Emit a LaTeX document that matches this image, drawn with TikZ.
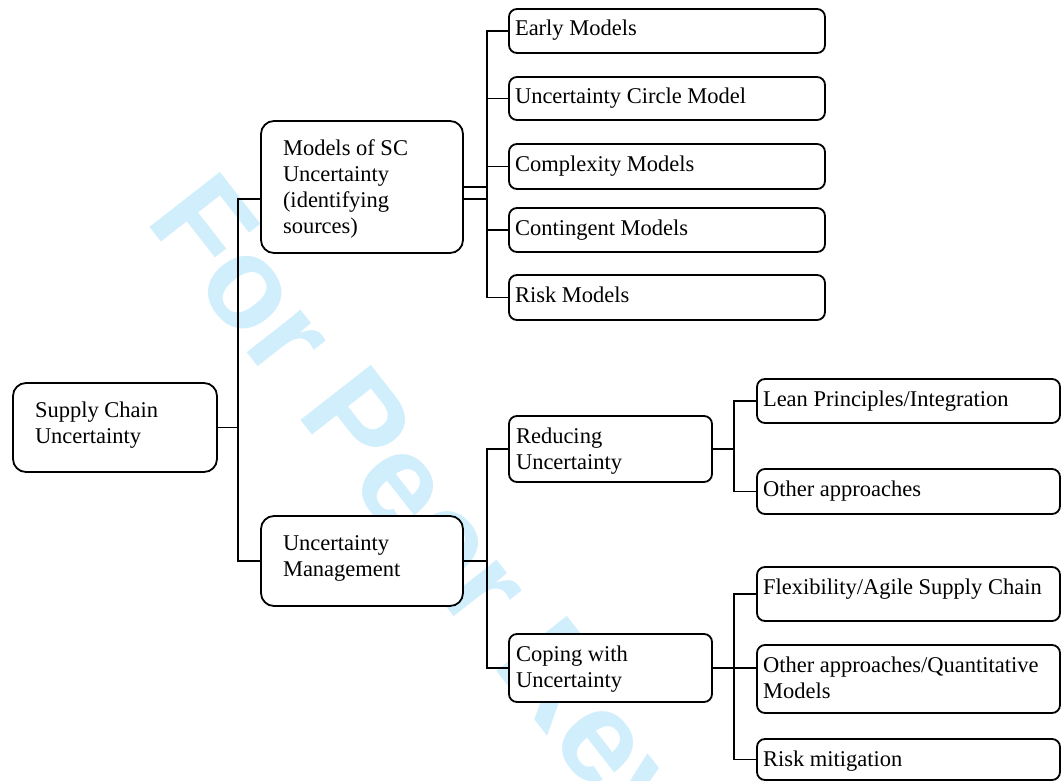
\documentclass[tikz,border=0pt]{standalone}
\usepackage{fontspec}
\setmainfont{Liberation Serif}
\newfontfamily\wmfont{Liberation Sans}
\usetikzlibrary{calc}
\definecolor{wmblue}{RGB}{208,238,251}
\tikzset{
  box/.style={draw, fill=white, line width=1.8pt, rounded corners=8pt, inner sep=0pt, outer sep=0pt, anchor=north west},
  bigbox/.style={box, rounded corners=13pt},
  txt/.style={anchor=north west, inner sep=0pt, outer sep=0pt, align=left, font=\fontsize{22.5}{26}\selectfont},
  conn/.style={line width=1.8pt},
}
\begin{document}
\begin{tikzpicture}[x=1pt,y=-1pt]
\useasboundingbox (0,0) rectangle (1062,781);
\begin{scope}
\clip (0,0) rectangle (1062,781);
\node[anchor=base west, inner sep=0pt, rotate=-52, text=wmblue, font=\wmfont\bfseries\fontsize{130}{130}\selectfont] (wm) at (144,220) {For Peer Review};
\end{scope}

% connectors (drawn before boxes)
\coordinate (t0) at (238,0);
\coordinate (b1) at (487,0);
\coordinate (b2) at (487,0);
\coordinate (b3) at (734,0);

% boxes
\node[bigbox, minimum width=204pt, minimum height=89pt] (root) at (13,383) {};
\node[bigbox, minimum width=202pt, minimum height=132pt] (models) at (261,121) {};
\node[bigbox, minimum width=202pt, minimum height=90pt] (um) at (261,516) {};

\node[box, minimum width=316pt, minimum height=44pt] (early) at (509,9) {};
\node[box, minimum width=316pt, minimum height=43pt] (circle) at (509,77) {};
\node[box, minimum width=316pt, minimum height=45pt] (complex) at (509,144) {};
\node[box, minimum width=316pt, minimum height=44pt] (conting) at (509,208) {};
\node[box, minimum width=316pt, minimum height=45pt] (risk) at (509,275) {};

\node[box, minimum width=203pt, minimum height=66pt] (reduc) at (509,416) {};
\node[box, minimum width=203pt, minimum height=68pt] (coping) at (509,634) {};

\node[box, minimum width=303pt, minimum height=44pt] (lean) at (757,379) {};
\node[box, minimum width=303pt, minimum height=45pt] (other1) at (757,469) {};
\node[box, minimum width=303pt, minimum height=54pt] (flex) at (757,567) {};
\node[box, minimum width=303pt, minimum height=68pt] (other2) at (757,645) {};
\node[box, minimum width=303pt, minimum height=41pt] (riskmit) at (757,739) {};

% texts
\node[txt] (rootT) at ($(root.north west)+(22,16.3)$) {\strut Supply Chain\\Uncertainty};
\node[txt] (modelsT) at ($(models.north west)+(22,16.3)$) {\strut Models of SC\\Uncertainty\\(identifying\\sources)};
\node[txt] (umT) at ($(um.north west)+(22,16.3)$) {\strut Uncertainty\\Management};

\node[txt] (earlyT) at ($(early.north west)+(6,8.8)$) {\strut Early Models};
\node[txt] (circleT) at ($(circle.north west)+(6,8.8)$) {\strut Uncertainty Circle Model};
\node[txt] (complexT) at ($(complex.north west)+(6,8.8)$) {\strut Complexity Models};
\node[txt] (contingT) at ($(conting.north west)+(6,8.8)$) {\strut Contingent Models};
\node[txt] (riskT) at ($(risk.north west)+(6,8.8)$) {\strut Risk Models};

\node[txt] (reducT) at ($(reduc.north west)+(7,9.3)$) {\strut Reducing\\Uncertainty};
\node[txt] (copingT) at ($(coping.north west)+(7,8.8)$) {\strut Coping with\\Uncertainty};

\node[txt] (leanT) at ($(lean.north west)+(6,8.8)$) {\strut Lean Principles/Integration};
\node[txt] (other1T) at ($(other1.north west)+(6,8.8)$) {\strut Other approaches};
\node[txt] (flexT) at ($(flex.north west)+(6,8.8)$) {\strut Flexibility/Agile Supply Chain};
\node[txt] (other2T) at ($(other2.north west)+(6,8.8)$) {\strut Other approaches/Quantitative\\Models};
\node[txt] (riskmitT) at ($(riskmit.north west)+(6,8.8)$) {\strut Risk mitigation};

% root level
\draw[conn] (root.east) -- (root.east -| t0);
\draw[conn] ($(models.west)+(0,12)$) -- ($(models.west -| t0)+(0,12)$) |- (um.west);

% models children
\draw[conn] (models.east) -- (models.east -| b1);
\draw[conn] ($(models.east)+(0,12)$) -- ($(models.east -| b1)+(0,12)$);
\draw[conn] (early.west) -- (early.west -| b1) -- (risk.west -| b1) -- (risk.west);
\draw[conn] (circle.west) -- (circle.west -| b1);
\draw[conn] (complex.west) -- (complex.west -| b1);
\draw[conn] (conting.west) -- (conting.west -| b1);

% management children
\draw[conn] (um.east) -- (um.east -| b2);
\draw[conn] (reduc.west) -- (reduc.west -| b2) -- (coping.west -| b2) -- (coping.west);

% reducing children
\draw[conn] (reduc.east) -- (reduc.east -| b3);
\draw[conn] (lean.west) -- (lean.west -| b3) -- (other1.west -| b3) -- (other1.west);

% coping children
\draw[conn] (coping.east) -- (other2.west |- coping.east);
\draw[conn] (flex.west) -- (flex.west -| b3) -- (riskmit.west -| b3) -- (riskmit.west);
\end{tikzpicture}
\end{document}
